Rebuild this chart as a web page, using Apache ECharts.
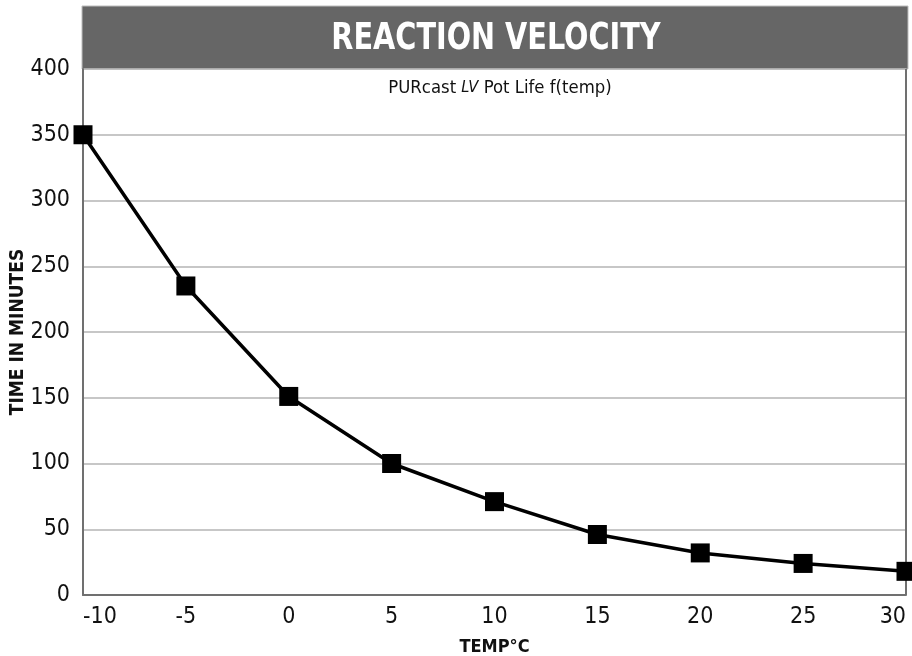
<!DOCTYPE html>
<html>
<head>
<meta charset="utf-8">
<script src="https://cdn.jsdelivr.net/npm/echarts@6/dist/echarts.min.js"></script>
<style>
html,body{margin:0;padding:0;background:#fff;}
#chart{width:912px;height:656px;}
</style>
</head>
<body>
<div id="chart"></div>
<script>
const temps = [-10, -5, 0, 5, 10, 15, 20, 25, 30];
const minutes = [350, 235, 151, 100, 71, 46, 32, 24, 18];
const yTicks = [0, 50, 100, 150, 200, 250, 300, 350, 400];
const chartTitle = 'REACTION VELOCITY';
const subTitleParts = ['PURcast ', 'LV', ' Pot Life f(temp)'];
const xName = 'TEMP°C';
const yName = 'TIME IN MINUTES';

const FONT = "'Liberation Sans Narrow', 'DejaVu Sans Condensed', 'Liberation Sans', sans-serif";

const chart = echarts.init(document.getElementById('chart'), null, {renderer: 'canvas'});
const gridL = 83, gridR = 6, gridT = 69, gridB = 61;

chart.setOption({
  animation: false,
  backgroundColor: '#fff',
  textStyle: {fontFamily: FONT},
  grid: {left: gridL, right: gridR, top: gridT, bottom: gridB, containLabel: false, outerBoundsMode: 'none'},
  graphic: [
    {type: 'rect', z: 0, shape: {x: 82, y: 6, width: 826, height: 63},
      style: {fill: '#666666', stroke: '#bdbdbd', lineWidth: 1}},
    {type: 'text', z: 10, x: 496, y: 39, scaleX: 0.84,
      style: {text: chartTitle, fill: '#ffffff', font: "bold 38px " + FONT, align: 'center', verticalAlign: 'middle'}},
    {type: 'text', z: 10, x: 500, y: 88, scaleX: 1.02,
      style: {
        text: '{a|' + subTitleParts[0] + '}{i|' + subTitleParts[1] + '}{a|' + subTitleParts[2] + '}',
        align: 'center', verticalAlign: 'middle',
        rich: {
          a: {fontFamily: FONT, fontSize: 18, fontWeight: 'normal', fill: '#111'},
          i: {fontFamily: FONT, fontSize: 16, fontStyle: 'italic', fontWeight: 'normal', fill: '#111'}
        }
      }},
    {type: 'line', z: 5, shape: {x1: 906, y1: 69, x2: 906, y2: 595},
      style: {stroke: '#707070', lineWidth: 2}}
  ],
  xAxis: {
    type: 'value', min: -10, max: 30, interval: 5,
    name: xName, nameLocation: 'middle', nameGap: 43, nameMoveOverlap: false,
    nameTextStyle: {fontFamily: FONT, fontWeight: 'bold', fontSize: 18, color: '#111'},
    axisLine: {show: true, onZero: false, lineStyle: {color: '#707070', width: 2}},
    axisTick: {show: false},
    splitLine: {show: false},
    axisLabel: {fontFamily: FONT, fontSize: 23, color: '#111', margin: 11,
      alignMinLabel: 'left', alignMaxLabel: 'right'}
  },
  yAxis: {
    type: 'value', min: yTicks[0], max: yTicks[yTicks.length - 1], interval: 50,
    name: yName, nameLocation: 'middle', nameGap: 55, nameRotate: 90, nameMoveOverlap: false,
    nameTextStyle: {fontFamily: FONT, fontWeight: 'bold', fontSize: 19, color: '#111'},
    axisLine: {show: true, onZero: false, lineStyle: {color: '#707070', width: 2}},
    axisTick: {show: false},
    splitLine: {show: true, lineStyle: {color: '#b4b4b4', width: 1.5}},
    axisLabel: {fontFamily: FONT, fontSize: 23, color: '#111', margin: 13}
  },
  series: [{
    type: 'line',
    data: temps.map((t, i) => [t, minutes[i]]),
    clip: false,
    symbol: 'rect', symbolSize: 19,
    lineStyle: {color: '#000', width: 3.5},
    itemStyle: {color: '#000'},
    z: 20
  }]
});
</script>
</body>
</html>
